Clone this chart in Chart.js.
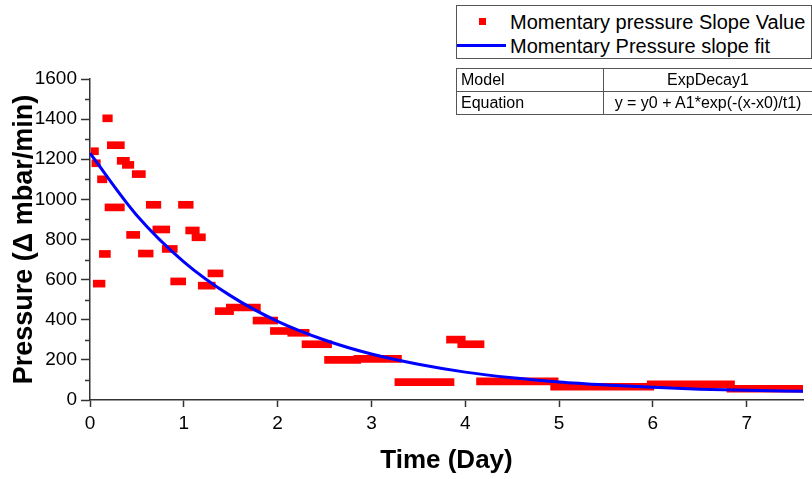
<!DOCTYPE html>
<html lang="en">
<head>
    <meta charset="UTF-8" />
    <title>Momentary pressure slope</title>
    <script src="https://cdn.jsdelivr.net/npm/chart.js"></script>
    <style>
        body {
            margin: 0;
            background: #fff;
            font-family: "Liberation Sans", Arial, sans-serif;
            color: #000;
        }

        .wrap {
            position: relative;
            width: 812px;
            height: 479px;
            overflow: hidden;
        }

        canvas {
            position: absolute;
            left: 0;
            top: 0;
        }

        .legend {
            position: absolute;
            left: 456px;
            top: 5px;
            width: 354px;
            height: 52px;
            border: 1px solid #555;
            background: #fff;
            font-size: 20px;
        }

        .legend .row {
            position: absolute;
            left: 53px;
            white-space: nowrap;
            line-height: 24px;
        }

        .legend .sq {
            position: absolute;
            left: 22px;
            top: 12px;
            width: 7px;
            height: 7px;
            background: #ff0000;
        }

        .legend .ln {
            position: absolute;
            left: 0;
            top: 38px;
            width: 49px;
            height: 3px;
            background: #0000ff;
        }

        table.fit {
            position: absolute;
            left: 456px;
            top: 68px;
            width: 356px;
            table-layout: fixed;
            border-collapse: collapse;
            font-size: 16px;
            background: #fff;
        }

        table.fit td {
            border: 1px solid #555;
            height: 22px;
            padding: 0 4px;
            white-space: nowrap;
            overflow: hidden;
        }

        table.fit td.c2 {
            text-align: center;
        }
    </style>
</head>
<body>
    <div class="wrap">
        <canvas id="slopeChart" width="812" height="479"></canvas>

        <div class="legend">
            <div class="sq"></div>
            <div class="row" style="top:4px">Momentary pressure Slope Value</div>
            <div class="ln"></div>
            <div class="row" style="top:28px">Momentary Pressure slope fit</div>
        </div>

        <table class="fit">
            <colgroup><col style="width:147px"><col style="width:209px"></colgroup>
            <tr><td>Model</td><td class="c2">ExpDecay1</td></tr>
            <tr><td>Equation</td><td class="c2">y = y0 + A1*exp(-(x-x0)/t1)</td></tr>
        </table>
    </div>

    <script>
        // measured slope runs: each run holds one value from segStart to segEnd (days)
        const segStart = [0.01, 0.02, 0.08, 0.035, 0.10, 0.136, 0.16, 0.185, 0.29, 0.345,
                          0.39, 0.45, 0.516, 0.60, 0.67, 0.77, 0.86, 0.943, 1.02, 1.087,
                          1.154, 1.257, 1.335, 1.453, 1.738, 1.923, 2.108, 2.26, 2.50, 2.813,
                          3.25, 3.80, 3.92, 4.12, 4.91, 5.94, 6.79];
        const segEnd   = [0.09, 0.11, 0.18, 0.16, 0.217, 0.238, 0.366, 0.366, 0.42, 0.467,
                          0.53, 0.59, 0.673, 0.755, 0.85, 0.93, 1.02, 1.10, 1.165, 1.23,
                          1.335, 1.418, 1.53, 1.816, 2.0, 2.18, 2.336, 2.575, 2.885, 3.32,
                          3.88, 4.0, 4.2, 4.99, 6.01, 6.87, 7.6];
        const segValue = [1240, 1180, 1100, 580, 728, 1404, 960, 1270, 1192, 1172,
                          823, 1126, 730, 973, 850, 753, 591, 973, 845, 811,
                          570, 631, 443, 461, 396, 344, 335, 278, 200, 205,
                          89, 301, 278, 93, 66, 78, 56];

        // ExpDecay1 fit curve
        const fitX = [0, 0.5, 1, 1.5, 2, 2.5, 3, 3.5, 4, 4.5, 5, 5.5, 6, 6.5, 7, 7.6];
        const fitY = [1230, 920, 689, 519, 392, 299, 229, 178, 139, 111, 90, 75, 63, 54, 48, 43];

        const xTickValues = [0, 1, 2, 3, 4, 5, 6, 7];
        const yMinorTicks = [100, 300, 500, 700, 900, 1100, 1300, 1500];

        const axisColor = '#333';
        const fontFamily = '"Liberation Sans", Arial, sans-serif';

        // short minor ticks on the left axis
        const minorTicks = {
            id: 'minorTicks',
            afterDraw(chart) {
                const ctx = chart.ctx;
                const y = chart.scales.y;
                ctx.save();
                ctx.strokeStyle = axisColor;
                ctx.lineWidth = 1.5;
                ctx.beginPath();
                yMinorTicks.forEach(v => {
                    const py = Math.round(y.getPixelForValue(v)) + 0.5;
                    ctx.moveTo(y.right - 5, py);
                    ctx.lineTo(y.right, py);
                });
                ctx.stroke();
                ctx.restore();
            }
        };

        new Chart(document.getElementById('slopeChart'), {
            type: 'line',
            data: {
                datasets: [{
                    label: 'Momentary Pressure slope fit',
                    data: fitX.map((x, i) => ({ x: x, y: fitY[i] })),
                    borderColor: '#0000ff',
                    borderWidth: 3,
                    pointRadius: 0,
                    cubicInterpolationMode: 'monotone',
                    order: 0
                }, {
                    type: 'bar',
                    label: 'Momentary pressure Slope Value',
                    indexAxis: 'y',
                    data: segValue.map((v, i) => ({ x: [segStart[i], segEnd[i]], y: v })),
                    backgroundColor: '#ff0000',
                    borderWidth: 0,
                    barThickness: 7,
                    order: 1
                }]
            },
            options: {
                responsive: false,
                animation: false,
                layout: { padding: { top: 79, right: 9 } },
                plugins: {
                    legend: { display: false },
                    tooltip: { enabled: false }
                },
                scales: {
                    x: {
                        type: 'linear',
                        min: 0,
                        max: 7.6,
                        offset: false,
                        afterBuildTicks: s => { s.ticks = xTickValues.map(v => ({ value: v })); },
                        afterFit: s => { s.height = 79; },
                        grid: {
                            drawOnChartArea: false,
                            offset: false,
                            color: axisColor,
                            tickLength: 7,
                            tickWidth: 1.5
                        },
                        border: { color: axisColor, width: 1.5 },
                        ticks: {
                            color: '#000',
                            padding: 5,
                            maxRotation: 0,
                            callback: v => String(v),
                            font: { family: fontFamily, size: 19 }
                        },
                        title: {
                            display: true,
                            text: 'Time (Day)',
                            color: '#000',
                            padding: { top: 0, bottom: 3 },
                            font: { family: fontFamily, size: 26, weight: 'bold' }
                        }
                    },
                    y: {
                        type: 'linear',
                        min: 0,
                        max: 1600,
                        offset: false,
                        afterFit: s => { s.width = 90; },
                        grid: {
                            drawOnChartArea: false,
                            offset: false,
                            color: axisColor,
                            tickLength: 9,
                            tickWidth: 1.5
                        },
                        border: { color: axisColor, width: 1.5 },
                        ticks: {
                            stepSize: 200,
                            color: '#000',
                            padding: 4,
                            callback: v => String(v),
                            font: { family: fontFamily, size: 19 }
                        },
                        title: {
                            display: true,
                            text: 'Pressure (\u0394 mbar/min)',
                            color: '#000',
                            padding: { top: 8, bottom: 0 },
                            font: { family: fontFamily, size: 27, weight: 'bold' }
                        }
                    }
                }
            },
            plugins: [minorTicks]
        });
    </script>
</body>
</html>
